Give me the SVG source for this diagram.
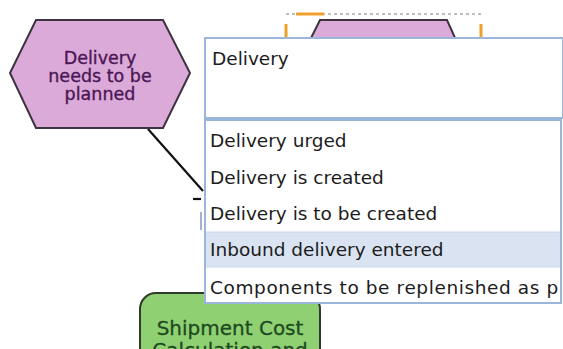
<svg xmlns="http://www.w3.org/2000/svg" width="563" height="349" viewBox="0 0 563 349">
  <style>
    .event { fill: #dcaad8; stroke: #3d3340; stroke-width: 2; }
    .func { fill: #8fd072; stroke: #2e3a2a; stroke-width: 2; }
    .ev-text { font-family: "DejaVu Sans", Verdana, sans-serif; font-size: 17.5px; fill: #4b1656; stroke: #4b1656; stroke-width: 0.35; text-anchor: middle; }
    .fn-text { font-family: "DejaVu Sans", Verdana, sans-serif; font-size: 20px; fill: #1e4a1e; stroke: #1e4a1e; stroke-width: 0.3; text-anchor: middle; }
    .ui-text { font-family: "DejaVu Sans", Tahoma, sans-serif; font-size: 18.5px; fill: #1c1c1c; }
    .ui-box { fill: #ffffff; stroke: #9ab6da; stroke-width: 2; }
    .conn { stroke: #111111; stroke-width: 2.2; fill: none; }
    .handle { stroke: #f0a028; stroke-width: 3; fill: none; }
    .sel { stroke: #a8a8b0; stroke-width: 1.5; stroke-dasharray: 3 3; fill: none; }
  </style>
  <defs>
    <clipPath id="listClip">
      <rect x="205" y="38" width="358" height="266"/>
    </clipPath>
  </defs>

  <rect width="563" height="349" fill="#ffffff"/>

  <!-- connectors -->
  <g id="connectors">
    <path class="conn" d="M148 129 L203 191"/>
    <path class="conn" d="M193 199 L201 199"/>
    <path d="M201 212 L201 230" stroke="#8a9ab0" stroke-width="1.5"/>
  </g>

  <!-- event: Delivery needs to be planned -->
  <g id="event-delivery-planned">
    <polygon class="event" points="36,20 163,20 190,73 163,128 36,128 10,73"/>
    <text class="ev-text" x="100" y="64">Delivery</text>
    <text class="ev-text" x="100" y="82">needs to be</text>
    <text class="ev-text" x="100" y="100">planned</text>
  </g>

  <!-- selected event being edited -->
  <g id="event-selected">
    <polygon class="event" points="320,20 447,20 456,40 310,40"/>
    <path class="sel" d="M286 14 H481"/>
    <path class="handle" d="M296 14 H324"/>
    <path class="handle" d="M286 24 V39"/>
    <path class="handle" d="M481 24 V39"/>
  </g>

  <!-- function: Shipment Cost Calculation and ... -->
  <g id="function-shipment-cost">
    <rect class="func" x="140" y="293" width="180" height="80" rx="16" ry="16"/>
    <text class="fn-text" x="230" y="335">Shipment Cost</text>
    <text class="fn-text" x="230" y="357">Calculation and</text>
  </g>

  <!-- name input with suggestion list -->
  <g id="name-editor">
    <rect class="ui-box" x="205" y="38" width="358" height="80"/>
    <text class="ui-text" x="212" y="65">Delivery</text>

    <rect class="ui-box" x="205" y="120" width="356" height="183"/>
    <rect x="206" y="232" width="354" height="35" fill="#d9e3f1"/>
    <path d="M206 232 H560 M206 267 H560" stroke="#c9d6ea" stroke-width="1"/>
    <g clip-path="url(#listClip)">
      <text class="ui-text" x="210" y="147">Delivery urged</text>
      <text class="ui-text" x="210" y="184">Delivery is created</text>
      <text class="ui-text" x="210" y="220">Delivery is to be created</text>
      <text class="ui-text" x="210" y="256">Inbound delivery entered</text>
      <text class="ui-text" x="210" y="294" letter-spacing="0.6">Components to be replenished as p</text>
    </g>
  </g>
</svg>
